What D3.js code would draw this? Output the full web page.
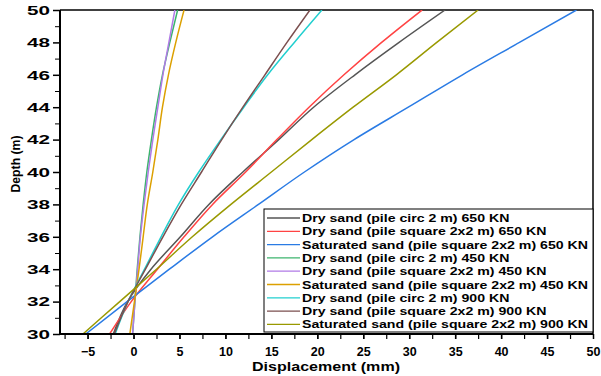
<!DOCTYPE html>
<html><head><meta charset="utf-8">
<script src="https://cdn.jsdelivr.net/npm/d3@7"></script>
<style>
html,body{margin:0;padding:0;background:#fff;}
text{font-family:"Liberation Sans",Arial,sans-serif;font-weight:bold;fill:#000;}
</style></head>
<body><svg id="chart" width="601" height="376"></svg>
<script>
const depth = [30,32,34,36,38,40,42,44,46,48,50];
const dryCirc650  = [-2.2,-0.65,1.9,5.1,8.2,11.9,15.8,19.6,24.1,28.9,33.9];
const drySq650    = [-2.6,-0.25,2.6,5.5,8.6,12.2,15.6,19.1,22.9,27.0,31.4];
const satSq650    = [-5.2,-0.7,3.9,8.6,13.6,18.6,24.0,29.9,35.8,42.0,48.2];
const dryCirc450  = [-0.1,0.15,0.4,0.7,1.05,1.45,1.95,2.5,3.15,3.95,4.8];
const drySq450    = [-0.1,0.15,0.45,0.75,1.15,1.6,2.1,2.65,3.2,3.85,4.5];
const satSq450    = [-0.4,0.1,0.6,1.05,1.5,2.1,2.65,3.15,3.8,4.6,5.5];
const dryCirc900  = [-2.0,-0.6,1.2,3.0,4.9,7.1,9.5,12.0,14.6,17.5,20.5];
const drySq900    = [-2.1,-0.6,1.3,3.2,5.2,7.4,9.6,11.9,14.3,16.7,19.2];
const satSq900    = [-5.5,-1.5,2.5,6.4,10.6,15.0,19.4,23.9,28.6,33.0,37.5];

const seriesNames = [
  "Dry sand (pile circ 2 m) 650 KN",
  "Dry sand (pile square 2x2 m) 650 KN",
  "Saturated sand (pile square 2x2 m) 650 KN",
  "Dry sand (pile circ 2 m) 450 KN",
  "Dry sand (pile square 2x2 m) 450 KN",
  "Saturated sand (pile square 2x2 m) 450 KN",
  "Dry sand (pile circ 2 m) 900 KN",
  "Dry sand (pile square 2x2 m) 900 KN",
  "Saturated sand (pile square 2x2 m) 900 KN"
];
const seriesValues = [dryCirc650, drySq650, satSq650, dryCirc450, drySq450, satSq450, dryCirc900, drySq900, satSq900];
const seriesColors = ["#555555","#ff4343","#2a7be4","#3cb46e","#b07ae6","#dca000","#22cfcf","#7b4f4f","#999900"];

const xTicks = [-5,0,5,10,15,20,25,30,35,40,45,50];
const yTicks = [30,32,34,36,38,40,42,44,46,48,50];

const svg = d3.select("#chart");
const L = 60, R = 593, T = 10, B = 334;
const x = d3.scaleLinear().domain([-8,50]).range([L,R]);
const y = d3.scaleLinear().domain([30,50]).range([B,T]);

svg.append("line").attr("x1",L).attr("x2",R).attr("y1",T).attr("y2",T).attr("stroke","#000").attr("stroke-width",1.5);
svg.append("line").attr("x1",R).attr("x2",R).attr("y1",T).attr("y2",B).attr("stroke","#000").attr("stroke-width",1.5);

svg.append("clipPath").attr("id","clip").append("rect").attr("x",L).attr("y",T).attr("width",R-L).attr("height",B-T);
const line = d3.line().x(d=>x(d[0])).y(d=>y(d[1])).curve(d3.curveMonotoneY);
const g = svg.append("g").attr("clip-path","url(#clip)");
seriesValues.forEach((vals,i)=>{
  g.append("path").datum(vals.map((v,j)=>[v,depth[j]]))
   .attr("d",line).attr("fill","none").attr("stroke",seriesColors[i]).attr("stroke-width",1.5);
});

const xAxisG = svg.append("g").attr("transform",`translate(0,${B})`);
xAxisG.call(d3.axisBottom(x).tickValues(d3.range(-7.5,50,2.5)).tickSize(5).tickFormat(""));
xAxisG.select(".domain").remove();
const xMaj = svg.append("g").attr("transform",`translate(0,${B})`)
  .call(d3.axisBottom(x).tickValues(xTicks).tickSize(5).tickPadding(8).tickFormat(d3.format("d")));
xMaj.select(".domain").remove();
xMaj.selectAll("text").attr("font-size",12.5).attr("font-family",null).style("font-weight","bold");
xAxisG.selectAll("line").attr("stroke-width",1.2);
xMaj.selectAll("line").attr("stroke-width",1.5);
svg.append("line").attr("x1",L).attr("x2",R).attr("y1",B).attr("y2",B).attr("stroke","#000").attr("stroke-width",2);

const yMin = svg.append("g").attr("transform",`translate(${L},0)`)
  .call(d3.axisLeft(y).tickValues(d3.range(31,50,2)).tickSize(5).tickFormat(""));
yMin.select(".domain").remove();
const yMaj = svg.append("g").attr("transform",`translate(${L},0)`)
  .call(d3.axisLeft(y).tickValues(yTicks).tickSize(7).tickPadding(3).tickFormat(d3.format("d")));
yMaj.select(".domain").remove();
yMaj.selectAll("text").attr("font-size",13.5).attr("font-family",null).style("font-weight","bold")
  .attr("textLength",23).attr("lengthAdjust","spacingAndGlyphs");
yMaj.selectAll("line").attr("stroke-width",1.5);
svg.append("line").attr("x1",L).attr("x2",L).attr("y1",T).attr("y2",B+1).attr("stroke","#000").attr("stroke-width",2);

svg.append("text").attr("x",326).attr("y",371).attr("text-anchor","middle").attr("font-size",13)
  .attr("textLength",148).attr("lengthAdjust","spacingAndGlyphs").text("Displacement (mm)");
svg.append("text").attr("transform","translate(20,164) rotate(-90)").attr("text-anchor","middle").attr("font-size",13)
  .attr("textLength",57).attr("lengthAdjust","spacingAndGlyphs").text("Depth (m)");

const lx = 264, ly = 209, lw = R - lx, lh = B - ly - 2;
svg.append("rect").attr("x",lx).attr("y",ly).attr("width",lw).attr("height",lh).attr("fill","#fff").attr("stroke","#000").attr("stroke-width",1);
const lg = svg.append("g");
const rowH = 13.3;
seriesNames.forEach((name,i)=>{
  const cy = ly + 9 + i*rowH;
  lg.append("line").attr("x1",lx+3).attr("x2",lx+36).attr("y1",cy).attr("y2",cy).attr("stroke",seriesColors[i]).attr("stroke-width",1.3);
  lg.append("text").attr("x",lx+38).attr("y",cy+4).attr("font-size",11.5).text(name);
});
const texts = lg.selectAll("text").nodes();
const maxLen = d3.max(texts, n=>n.getComputedTextLength());
const factor = 286/maxLen;
texts.forEach(n=>{ const w=n.getComputedTextLength(); n.setAttribute("textLength", w*factor); n.setAttribute("lengthAdjust","spacingAndGlyphs"); });
</script></body></html>
